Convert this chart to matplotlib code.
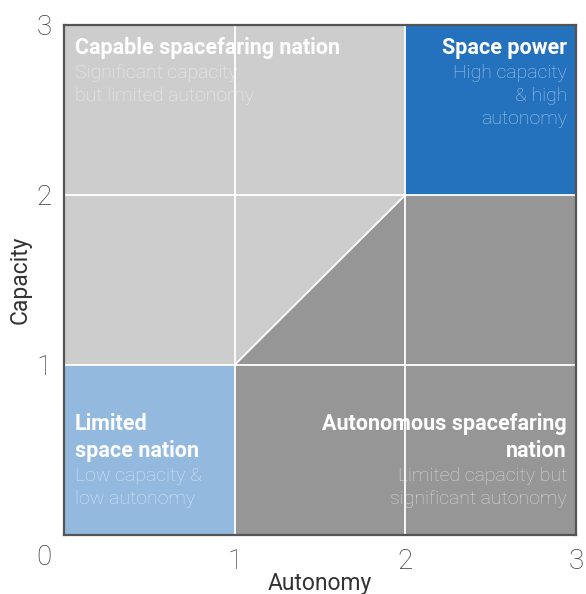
import matplotlib
matplotlib.use("Agg")
import matplotlib.pyplot as plt
from matplotlib.patches import Polygon

plt.rcParams["font.family"] = ["Roboto", "DejaVu Sans"]

# region shapes in (autonomy, capacity) units
light_gray_shape = [(0, 1), (0, 3), (2, 3), (2, 2), (1, 1)]
dark_gray_shape = [(1, 0), (3, 0), (3, 2), (2, 2), (1, 1)]
blue_shape = [(2, 2), (3, 2), (3, 3), (2, 3)]
light_blue_shape = [(0, 0), (1, 0), (1, 1), (0, 1)]
shape_colors = ["#cdcdcd", "#969696", "#2471bd", "#93b9de"]

ticks = [1, 2, 3]

# quadrant labels: title lines, description lines
titles = [["Capable spacefaring nation"], ["Space power"],
          ["Limited", "space nation"], ["Autonomous spacefaring", "nation"]]
descs = [["Significant capacity", "but limited autonomy"],
         ["High capacity", "& high", "autonomy"],
         ["Low capacity &", "low autonomy"],
         ["Limited capacity but", "significant autonomy"]]

fig = plt.figure(figsize=(5.86, 5.94), dpi=100)
ax = fig.add_axes([0.109, 0.0993, 0.874, 0.8587])

for shape, col in zip([light_gray_shape, dark_gray_shape, blue_shape, light_blue_shape], shape_colors):
    ax.add_patch(Polygon(shape, closed=True, facecolor=col, edgecolor="none", zorder=1))

for t in [1, 2]:
    ax.axvline(t, color="white", lw=1.3, zorder=2)
    ax.axhline(t, color="white", lw=1.3, zorder=2)
ax.plot([1, 2], [1, 2], color="white", lw=1.3, zorder=2)

ax.set_xlim(0, 3)
ax.set_ylim(0, 3)
ax.set_xticks(ticks)
ax.set_yticks(ticks)
ax.set_xticklabels([str(t) for t in ticks])
ax.set_yticklabels([str(t) for t in ticks])
ax.tick_params(length=0, labelsize=20, labelcolor="#383838", pad=9)
for lab in ax.get_xticklabels() + ax.get_yticklabels():
    lab.set_fontweight("light")
ax.text(-0.117, -0.13, "0", fontsize=20, color="#383838", fontweight="light",
        ha="center", va="center", clip_on=False)

for s in ax.spines.values():
    s.set_color("#555555")
    s.set_linewidth(1.6)
    s.set_zorder(5)

ax.set_xlabel("Autonomy", fontsize=16.5, color="#333333", labelpad=-2)
ax.set_ylabel("Capacity", fontsize=16.5, color="#333333", labelpad=3)

# label anchors: x, first line y, alignment
anchors = [(0.065, 2.865, "left"), (2.947, 2.865, "right"),
           (0.065, 0.653, "left"), (2.947, 0.653, "right")]
title_step = 0.159
desc_step = 0.136
for (x, y0, ha), tl, dl in zip(anchors, titles, descs):
    y = y0
    for line in tl:
        ax.text(x, y, line, ha=ha, va="center", fontsize=15.5, fontweight="bold",
                color="white", zorder=4)
        y -= title_step
    y += title_step - 0.147
    for line in dl:
        ax.text(x, y, line, ha=ha, va="center", fontsize=14, fontweight="light",
                color="white", alpha=0.62, zorder=4)
        y -= desc_step

fig.savefig("out.png", dpi=100)
